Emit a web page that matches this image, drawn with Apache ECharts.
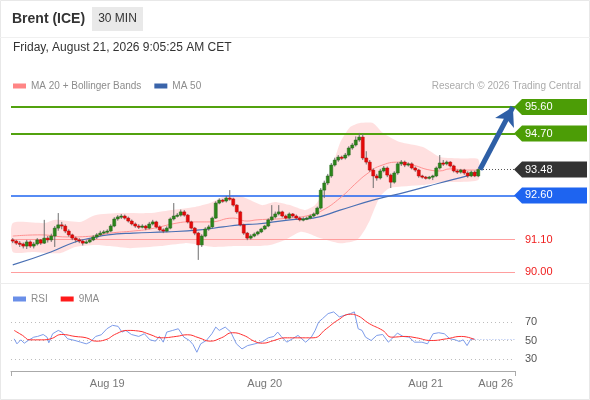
<!DOCTYPE html>
<html><head><meta charset="utf-8">
<script src="https://cdn.jsdelivr.net/npm/echarts@6/dist/echarts.min.js"></script>
<style>html,body{margin:0;padding:0;background:#fff}#c{width:590px;height:400px}</style>
</head><body><div id="c"></div>
<script>
// ---------- DATA ----------
const opens  = [91.09,91.05,90.98,90.95,90.88,91.02,90.88,90.95,91.09,90.98,91.15,91.09,91.22,91.49,91.60,91.56,91.39,91.26,91.15,91.09,91.05,90.98,91.02,91.09,91.19,91.26,91.32,91.36,91.39,91.56,91.80,91.87,91.90,91.83,91.73,91.63,91.56,91.53,91.56,91.49,91.63,91.70,91.53,91.43,91.39,91.49,91.80,91.90,91.93,92.04,91.93,91.70,91.49,91.32,90.92,91.22,91.46,91.53,91.83,92.34,92.44,92.41,92.51,92.48,92.27,92.04,91.60,91.32,91.15,91.22,91.29,91.36,91.46,91.56,91.77,91.87,91.97,92.04,91.90,91.83,91.97,91.90,91.83,91.77,91.80,91.83,91.90,91.97,92.17,92.78,93.02,93.26,93.63,93.80,93.90,93.87,93.97,94.21,94.31,94.48,94.58,93.87,93.73,93.46,93.26,93.19,93.43,93.53,93.29,93.05,93.36,93.67,93.73,93.63,93.67,93.53,93.46,93.26,93.22,93.19,93.22,93.26,93.53,93.70,93.67,93.73,93.60,93.43,93.39,93.46,93.36,93.26,93.39,93.26];
const closes = [91.05,90.98,90.95,90.88,91.02,90.88,90.95,91.09,90.98,91.15,91.09,91.22,91.49,91.60,91.56,91.39,91.26,91.15,91.09,91.05,90.98,91.02,91.09,91.19,91.26,91.32,91.36,91.39,91.56,91.80,91.87,91.90,91.83,91.73,91.63,91.56,91.53,91.56,91.49,91.63,91.70,91.53,91.43,91.39,91.49,91.80,91.90,91.93,92.04,91.93,91.70,91.49,91.32,90.92,91.22,91.46,91.53,91.83,92.34,92.44,92.41,92.51,92.48,92.27,92.04,91.60,91.32,91.15,91.22,91.29,91.36,91.46,91.56,91.77,91.87,91.97,92.04,91.90,91.83,91.97,91.90,91.83,91.77,91.80,91.83,91.90,91.97,92.17,92.78,93.02,93.26,93.63,93.80,93.90,93.87,93.97,94.21,94.31,94.48,94.58,93.87,93.73,93.46,93.26,93.19,93.43,93.53,93.29,93.05,93.36,93.67,93.73,93.63,93.67,93.53,93.46,93.26,93.22,93.19,93.22,93.26,93.53,93.70,93.67,93.73,93.60,93.43,93.39,93.46,93.36,93.26,93.39,93.26,93.48];
const lows   = [90.98,90.92,90.85,90.80,90.78,90.82,90.80,90.90,90.92,90.95,91.00,91.02,90.85,91.40,91.45,91.32,91.20,91.08,91.00,90.98,90.90,90.95,90.98,91.05,91.12,91.22,91.28,91.30,91.35,91.52,91.74,91.80,91.78,91.68,91.58,91.50,91.46,91.48,91.42,91.45,91.58,91.48,91.38,91.32,91.35,91.45,91.75,91.85,91.88,91.88,91.65,91.44,91.25,90.41,90.85,91.18,91.40,91.48,91.80,92.30,92.35,92.36,92.42,92.22,91.98,91.55,91.26,91.08,91.10,91.18,91.24,91.32,91.42,91.52,91.72,91.82,91.92,91.85,91.78,91.80,91.85,91.78,91.72,91.72,91.76,91.79,91.86,91.93,92.12,92.51,92.95,93.20,93.58,93.74,93.80,93.82,93.92,94.15,94.26,94.42,93.80,93.65,93.40,92.85,93.10,93.14,93.38,93.22,92.85,93.00,93.30,93.60,93.56,93.58,93.48,93.40,93.20,93.17,93.14,93.14,93.12,93.22,93.48,93.60,93.62,93.55,93.38,93.33,93.34,93.30,93.20,93.22,93.22,93.22];
const highs  = [91.15,91.09,91.05,91.00,91.09,91.07,91.02,91.15,91.12,91.77,91.22,91.30,91.56,92.00,91.70,91.62,91.45,91.30,91.20,91.15,91.10,91.08,91.14,91.25,91.32,91.40,91.42,91.45,91.62,91.86,91.93,91.97,91.95,91.88,91.78,91.68,91.62,91.62,91.60,91.70,91.77,91.74,91.58,91.48,91.55,91.85,92.34,92.00,92.12,92.10,91.97,91.74,91.53,91.36,91.28,91.52,91.60,91.88,92.40,92.50,92.48,92.58,92.78,92.52,92.30,92.08,91.64,91.36,91.28,91.34,91.40,91.50,91.60,91.82,92.27,92.05,92.27,92.08,91.95,92.02,92.00,91.95,91.88,91.86,91.88,91.95,92.02,92.22,92.85,93.10,93.33,93.70,93.88,93.97,93.95,94.04,94.27,94.38,94.60,94.72,94.68,94.10,93.80,93.52,93.33,93.50,93.60,93.58,93.34,93.42,93.73,93.80,93.78,93.72,93.72,93.58,93.50,93.30,93.26,93.26,93.30,93.58,93.97,93.80,93.78,93.76,93.64,93.48,93.50,93.50,93.42,93.44,93.44,93.52];

// moving averages / bands: [candle index, price]
const ma20 = [[0,91.22],[7.8,91.26],[15.5,91.19],[22.9,91.22],[27.8,91.32],[34.4,91.39],[39.2,91.46],[46.9,91.66],[50.6,91.70],[56.4,91.70],[62.9,91.83],[66.9,91.73],[69.8,91.77],[79.2,91.83],[84.9,91.93],[88.6,92.10],[93.5,92.51],[98.4,93.05],[101.2,93.33],[104.9,93.60],[110.6,93.73],[114.4,93.63],[119.2,93.46],[122,93.43],[124.9,93.50],[129.8,93.46],[133,93.46]];
const ma50 = [[0,90.24],[10.9,90.68],[17.8,91.02],[22.4,91.15],[27.2,91.26],[34.4,91.32],[44.1,91.36],[53.5,91.43],[60.1,91.53],[64.9,91.60],[69.8,91.63],[79.2,91.77],[85.8,91.83],[93.5,92.10],[102.9,92.44],[112.6,92.72],[122,93.02],[130.6,93.29],[133,93.39]];
const bbUpper = [[0,91.66],[9.2,91.66],[12.1,91.77],[19.2,91.70],[23.5,91.93],[30.6,92.00],[39.2,92.00],[44.9,92.10],[52.1,92.21],[56.4,92.34],[60.6,92.58],[64.1,92.61],[67.8,92.44],[71.2,92.27],[74.9,92.38],[79.2,92.27],[83.5,92.10],[86.4,92.27],[88.6,92.68],[91.2,93.53],[93.5,94.38],[96.4,94.92],[99.2,95.06],[102.9,95.06],[105.8,94.72],[110.6,94.41],[117.2,94.24],[122.1,93.90],[128.6,93.85],[133,93.83]];
const bbLower = [[0,90.68],[5.8,90.68],[13.5,90.64],[17.8,90.85],[23.5,90.92],[27.8,90.88],[33.5,90.81],[42.1,90.88],[49.2,90.98],[53.5,90.92],[57.8,90.85],[63.5,90.88],[69.2,90.88],[73.5,90.92],[77.8,91.09],[82.1,91.36],[84.9,91.29],[86.9,91.19],[93.5,90.98],[98.4,91.09],[100.6,91.43],[102.1,91.77],[104.9,92.55],[107.8,92.85],[117.2,92.95],[122.1,93.05],[133,93.12]];

// RSI panel: [candle index, value]
const rsi = [[0.4,51.8],[1.2,46.4],[2.3,50.7],[3.3,47.1],[4.4,50],[6,53.6],[7.1,54.4],[8.7,56.5],[9.8,53.6],[10.3,47.5],[11.4,57.3],[13,60.9],[14,59.1],[15.7,51.8],[17.8,50],[19.4,48.2],[21,46.4],[22.1,48.2],[23.7,54.4],[25.3,56.2],[26.9,62.7],[28.5,66.4],[30.1,65.3],[31.2,59.1],[32.3,60.9],[33.9,56.5],[36,54.4],[37.6,57.3],[39.2,50.7],[40.8,49.3],[41.9,54.4],[43,48.2],[44,59.1],[45.7,60.9],[47.3,62.7],[48.9,53.6],[50.5,50],[51.5,45.6],[52.6,37.3],[53.7,46.4],[55.3,50],[56.9,57.3],[58,64.5],[59,60.9],[60.7,64.5],[62.3,59.1],[63.9,46.4],[65.5,40.9],[67.1,44.5],[69.2,46.4],[71.4,48.9],[73,52.9],[74.6,54.4],[75.7,59.1],[76.7,54.4],[78.3,48.2],[79.9,51.8],[81.5,55.5],[82.6,51.8],[83.7,48.2],[85.3,53.6],[86.4,60.9],[87.4,70],[88.5,73.6],[90.1,79.1],[91.7,80.9],[93.3,75.5],[94.9,77.3],[96.5,79.1],[97.6,80.9],[98.7,62.7],[99.8,60.9],[100.8,53.6],[102.4,50],[104,55.5],[105.7,56.5],[107.3,48.2],[108.3,51.8],[109.9,58],[111.5,54.4],[113.2,53.6],[114.8,48.2],[116.9,48.2],[118.5,46.4],[120.1,57.3],[121.7,58.4],[123.3,57.3],[124.9,51.8],[126.5,50.7],[127.6,48.9],[128.7,50.7],[129.8,44.5],[130.8,51.1],[131.9,51.8]];
const rsiMA9 = [[0.4,60.9],[2.8,55.5],[4.9,50.7],[8.2,50.7],[10.8,51.8],[14,56.5],[17.8,54.4],[21,52.9],[23.7,49.3],[26.4,50.7],[29.6,57.3],[32.8,60.9],[36,60.2],[39.2,56.5],[42.4,52.9],[46.7,54.4],[49.9,56.2],[53.2,52.9],[56.4,49.3],[59.6,52.9],[62.8,58.4],[66,55.5],[69.2,48.9],[71.4,47.1],[74.6,50],[77.8,52.9],[82.1,52.9],[85.8,52.9],[89.6,62.7],[92.8,71.8],[96.5,78.4],[98.2,77.3],[101.9,68.2],[105.7,60.9],[108.3,53.6],[112.1,54.4],[115.3,52.9],[119.6,50],[123.9,51.8],[128.2,54.4],[131.9,51.1]];
const rsiTicks = [30, 50, 70];

// time axis
const slotCount = 144;
const dayLabels = ['Aug 19', 'Aug 20', 'Aug 21', 'Aug 26'];
const dayLabelSlots = [27, 72, 118, 138];

// key levels
const levels = [95.60, 94.70, 93.48, 92.60, 91.10, 90.00];
const levelKinds = ['target', 'target', 'last', 'pivot', 'support', 'support'];
const lastPrice = 93.48;
const targetPrice = 95.60;
const lastIndex = 133.5;
const targetIndex = 142.9;

// ---------- CHART ----------
const FONT = 'Liberation Sans, Arial, sans-serif';
const levelColor = {target:'#4c9d06', last:'#333333', pivot:'#1e64f0', support:'#f01c1c'};
const levelLine = {target:{color:'#52a20e',width:2}, pivot:{color:'#1e64f0',width:1.5}, support:{color:'#ff9e9e',width:1}};

const slots = [];
for (let i = 0; i < slotCount; i++) {
  const k = dayLabelSlots.indexOf(i);
  slots.push(k >= 0 ? dayLabels[k] : '');
}
const candleData = closes.map((c, i) => [i, opens[i], c, lows[i], highs[i]]);

const chart = echarts.init(document.getElementById('c'), null, {renderer:'canvas'});
chart.setOption({
  animation: false,
  backgroundColor: '#fff',
  textStyle: {fontFamily: FONT},
  grid: [
    {left: 11, right: 75, top: 95.24, height: 188.54},
    {left: 11, right: 75, top: 303.5, height: 74},
    {left: 11, right: 75, top: 370, height: 1}
  ],
  legend: [
    {data: ['MA 20 + Bollinger Bands', 'MA 50'], left: 8, top: 76, icon: 'rect', itemWidth: 13, itemHeight: 5,
     itemGap: 13, selectedMode: false, textStyle: {color: '#8c8c8c', fontSize: 10, fontFamily: FONT}},
    {data: ['RSI', '9MA'], left: 8, top: 289, icon: 'rect', itemWidth: 13, itemHeight: 5,
     itemGap: 13, selectedMode: false, textStyle: {color: '#8c8c8c', fontSize: 10, fontFamily: FONT}}
  ],
  xAxis: [
    {type: 'value', gridIndex: 0, min: -0.5, max: slotCount - 0.5, show: false},
    {type: 'value', gridIndex: 1, min: -0.5, max: slotCount - 0.5, show: false},
    {type: 'value', gridIndex: 2, min: 0, max: 1, interval: 1, position: 'bottom',
     axisLine: {show: true, lineStyle: {color: '#aaaaaa', width: 1}},
     axisTick: {show: true, length: 5, lineStyle: {color: '#aaaaaa'}},
     axisLabel: {show: false}, splitLine: {show: false}},
    {type: 'category', gridIndex: 2, data: slots, boundaryGap: true, position: 'bottom',
     axisLine: {show: false}, axisTick: {show: false}, splitLine: {show: false},
     axisLabel: {interval: (idx) => dayLabelSlots.indexOf(idx) >= 0, color: '#777', fontSize: 11, margin: 7, fontFamily: FONT}}
  ],
  yAxis: [
    {type: 'value', gridIndex: 0, min: 89.6, max: 96, show: false},
    {type: 'value', gridIndex: 1, min: 10, max: 90, interval: 20, position: 'right',
     axisLine: {show: false}, axisTick: {show: false}, splitLine: {show: false},
     axisLabel: {formatter: v => rsiTicks.indexOf(v) >= 0 ? String(v) : '', color: '#555', fontSize: 11, margin: 10, fontFamily: FONT}},
    {type: 'value', gridIndex: 2, show: false}
  ],
  series: [
    { // Bollinger band
      type: 'custom', xAxisIndex: 0, yAxisIndex: 0, silent: true, z: 1, clip: true,
      data: [[0, 91]],
      renderItem: (params, api) => {
        const pts = bbUpper.map(p => api.coord(p)).concat(bbLower.slice().reverse().map(p => api.coord(p)));
        return {type: 'polygon', shape: {points: pts, smooth: 0.2}, style: {fill: 'rgba(255,165,165,0.34)'}};
      }
    },
    {
      name: 'MA 50', type: 'line', xAxisIndex: 0, yAxisIndex: 0, data: ma50, smooth: true, showSymbol: false,
      color: '#3a64aa', lineStyle: {width: 1.2, color: '#4a70b4'}, z: 3, silent: true,
      markLine: {
        silent: true, symbol: 'none', label: {show: false}, z: 2,
        data: levels.map((v, i) => levelKinds[i] === 'last' ? null :
          {yAxis: v, lineStyle: Object.assign({type: 'solid'}, levelLine[levelKinds[i]])}).filter(Boolean)
      }
    },
    {
      name: 'MA 20 + Bollinger Bands', type: 'line', xAxisIndex: 0, yAxisIndex: 0, data: ma20, smooth: true, showSymbol: false,
      color: '#ff8585', lineStyle: {width: 1, color: '#ff9292'}, z: 3, silent: true
    },
    { // candles
      type: 'custom', xAxisIndex: 0, yAxisIndex: 0, z: 6, silent: true,
      data: candleData,
      renderItem: (params, api) => {
        const i = api.value(0), o = api.value(1), c = api.value(2), l = api.value(3), h = api.value(4);
        const pO = api.coord([i, o]), pC = api.coord([i, c]), pL = api.coord([i, l]), pH = api.coord([i, h]);
        const w = api.size([1, 0])[0] * 0.86;
        const up = c >= o;
        const top = Math.min(pO[1], pC[1]);
        const hh = Math.max(Math.abs(pO[1] - pC[1]), 1.2);
        const x = pO[0];
        return {type: 'group', children: [
          {type: 'line', shape: {x1: x, y1: pH[1], x2: x, y2: pL[1]}, style: {stroke: '#6e6e6e', lineWidth: 1}},
          {type: 'rect', shape: {x: x - w / 2, y: top, width: w, height: hh},
           style: {fill: up ? '#2c861a' : '#e60a0a', stroke: up ? '#23641a' : '#b80000', lineWidth: 0.5}}
        ]};
      }
    },
    { // last price dotted
      type: 'line', xAxisIndex: 0, yAxisIndex: 0, data: [], silent: true,
      markLine: {silent: true, symbol: 'none', label: {show: false}, z: 4,
        lineStyle: {color: '#555', width: 1, type: [1, 2]},
        data: [[{coord: [lastIndex, lastPrice]}, {coord: [slotCount - 0.5, lastPrice]}]]}
    },
    { // forecast arrow
      type: 'line', xAxisIndex: 0, yAxisIndex: 0, data: [], silent: true,
      markLine: {silent: true, symbol: ['none', 'arrow'], symbolSize: [16, 18], label: {show: false}, z: 7,
        lineStyle: {color: '#2e5fa6', width: 5, type: 'solid'},
        data: [[{coord: [lastIndex, lastPrice]}, {coord: [targetIndex, targetPrice]}]]}
    },
    { // level labels
      type: 'custom', xAxisIndex: 0, yAxisIndex: 0, clip: false, silent: true, z: 8,
      data: levels.map(v => [0, v]),
      renderItem: (params, api) => {
        const lvl = api.value(1);
        const kind = levelKinds[params.dataIndex];
        const y = api.coord([0, lvl])[1];
        const x0 = params.coordSys.x + params.coordSys.width;
        const txt = lvl.toFixed(2);
        if (kind === 'support') {
          return {type: 'text', style: {text: txt, x: x0 + 10, y: y, fill: levelColor.support,
            font: '11px ' + FONT, verticalAlign: 'middle', align: 'left'}};
        }
        return {type: 'group', children: [
          {type: 'polygon', shape: {points: [[x0 - 1, y], [x0 + 7, y - 8], [x0 + 72, y - 8], [x0 + 72, y + 8], [x0 + 7, y + 8]]},
           style: {fill: levelColor[kind]}},
          {type: 'text', style: {text: txt, x: x0 + 10, y: y, fill: '#fff', font: '11px ' + FONT,
            verticalAlign: 'middle', align: 'left'}}
        ]};
      }
    },
    {
      name: 'RSI', type: 'line', xAxisIndex: 1, yAxisIndex: 1, data: rsi, showSymbol: false, smooth: false,
      color: '#6a8fe8', lineStyle: {width: 1, color: '#7d9cea'}, z: 3, silent: true,
      markLine: {silent: true, symbol: 'none', label: {show: false}, z: 2,
        data: rsiTicks.map(v => ({yAxis: v, lineStyle: {color: '#bdbdbd', width: 1, type: [1, 3]}}))
          .concat([[{coord: [rsi[rsi.length - 1][0], rsi[rsi.length - 1][1]], lineStyle: {color: '#a9bdf0', width: 1, type: [1, 2]}},
                    {coord: [slotCount - 0.5, rsi[rsi.length - 1][1]]}]])}
    },
    {
      name: '9MA', type: 'line', xAxisIndex: 1, yAxisIndex: 1, data: rsiMA9, showSymbol: false, smooth: true,
      color: '#ff1a1a', lineStyle: {width: 1, color: '#ff3030'}, z: 4, silent: true
    }
  ],
  graphic: [
    {type: 'rect', silent: true, shape: {x: 0.5, y: 0.5, width: 589, height: 399}, style: {fill: 'none', stroke: '#e8e8e8', lineWidth: 1}},
    {type: 'line', silent: true, shape: {x1: 0, y1: 37.5, x2: 590, y2: 37.5}, style: {stroke: '#f0f0f0', lineWidth: 1}},
    {type: 'line', silent: true, shape: {x1: 0, y1: 283.5, x2: 590, y2: 283.5}, style: {stroke: '#ececec', lineWidth: 1}},
    {type: 'text', silent: true, style: {text: 'Brent (ICE)', x: 12, y: 19, fill: '#333', font: 'bold 14px ' + FONT, verticalAlign: 'middle'}},
    {type: 'rect', silent: true, shape: {x: 92, y: 7, width: 51, height: 24}, style: {fill: '#e9e9e9'}},
    {type: 'text', silent: true, style: {text: '30 MIN', x: 117.5, y: 19, fill: '#333', font: '12px ' + FONT, align: 'center', verticalAlign: 'middle'}},
    {type: 'text', silent: true, style: {text: 'Friday, August 21, 2026 9:05:25 AM CET', x: 13, y: 48, fill: '#333', font: '12px ' + FONT, verticalAlign: 'middle'}},
    {type: 'text', silent: true, style: {text: 'Research \u00a9 2026 Trading Central', x: 581, y: 86, fill: '#ababab', font: '10px ' + FONT, align: 'right', verticalAlign: 'middle'}}
  ]
});
</script>
</body></html>
